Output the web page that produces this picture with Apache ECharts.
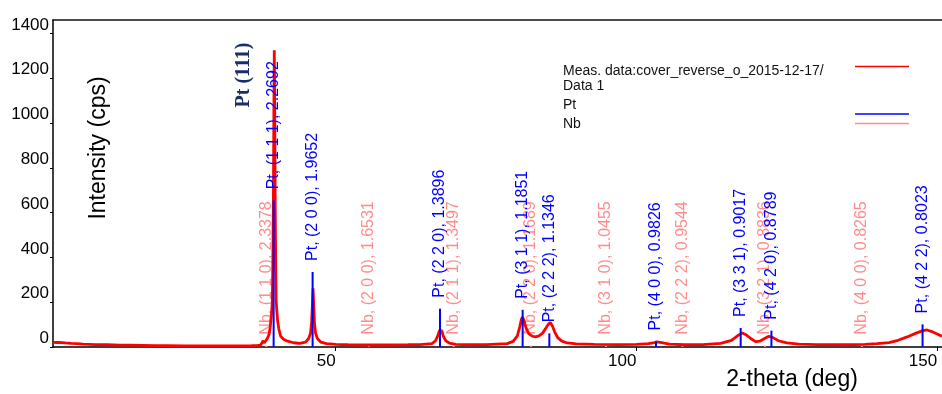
<!DOCTYPE html>
<html>
<head>
<meta charset="utf-8">
<script src="https://cdn.jsdelivr.net/npm/echarts@6/dist/echarts.min.js"></script>
<style>
  html, body { margin: 0; padding: 0; background: #fff; }
  #chart { width: 942px; height: 394px; }
</style>
</head>
<body>
<div id="chart"></div>
<script>
const measTheta = [
  3, 3.5, 4, 5, 6, 7, 8, 9, 10, 12, 14, 16, 18, 20, 22, 25, 28, 31, 34, 36, 37, 37.5,
  37.8, 37.95, 38.1, 38.3, 38.6, 38.9, 39.1, 39.3, 39.46, 39.55, 39.65, 39.72, 39.79,
  39.86, 39.94, 40.02, 40.1, 40.2, 40.35, 40.55, 40.85, 41.3, 42, 43, 44, 45, 45.5,
  45.8, 46, 46.12, 46.23, 46.34, 46.46, 46.65, 46.95, 47.5, 48.5, 50, 52, 54, 55.4,
  55.6, 55.8, 58, 62, 64, 66, 66.6, 67, 67.25, 67.45, 67.65, 67.9, 68.3, 68.9, 70,
  72, 75, 78.5, 79.5, 80.2, 80.6, 80.85, 81.05, 81.3, 81.65, 82.1, 82.7, 83.2, 83.8,
  84.4, 84.9, 85.3, 85.67, 86, 86.4, 86.9, 87.6, 88.5, 90, 93, 97, 100, 102, 103,
  103.4, 104.2, 105.5, 108, 111, 114, 115.8, 116.9, 117.6, 118.2, 119, 119.8, 120.5,
  121.3, 122, 122.7, 123.6, 125, 127, 130, 135, 138, 140, 142, 143.5, 145, 146.5,
  147.5, 148.3, 149, 150, 150.8
];
const measIntensity = [
  22, 20, 21, 18, 16, 15, 13, 12, 11, 10, 8, 8, 7, 6, 6, 5, 5, 5, 5, 6, 7, 8,
  14, 28, 18, 22, 36, 55, 85, 140, 200, 380, 700, 1050, 1325,
  1080, 650, 380, 210, 165, 115, 80, 48, 35, 26, 19, 16, 22, 38,
  60, 110, 190, 262, 190, 110, 62, 38, 22, 15, 12, 10, 9, 9,
  14, 9, 9, 10, 11, 15, 28, 52, 74, 82, 72, 48, 28, 17, 12,
  10, 11, 15, 25, 50, 90, 122, 134, 118, 84, 60, 48, 45, 50,
  62, 82, 100, 109, 96, 68, 42, 26, 18, 14, 12, 11, 12, 15, 20,
  23, 20, 13, 10, 11, 16, 30, 52, 63, 55, 38, 24, 26,
  38, 48, 42, 28, 18, 13, 11, 10, 12, 15, 20, 30, 45, 62,
  72, 76, 70, 58, 48
];

// reference sticks
const ptTheta = [39.68, 46.16, 67.34, 81.08, 85.52, 103.25, 117.33, 122.44, 147.57];
const ptHeight = [655, 335, 171, 166, 61, 25, 85, 73, 101];
const ptHkl = ['1 1 1', '2 0 0', '2 2 0', '3 1 1', '2 2 2', '4 0 0', '3 3 1', '4 2 0', '4 2 2'];
const ptD = ['2.2692', '1.9652', '1.3896', '1.1851', '1.1346', '0.9826', '0.9017', '0.8789', '0.8023'];

const nbTheta = [38.48, 55.54, 69.61, 82.45, 94.93, 107.64, 121.36, 137.48];
const nbHeight = [6, 6, 6, 6, 6, 6, 6, 6];
const nbHkl = ['1 1 0', '2 0 0', '2 1 1', '2 2 0', '3 1 0', '2 2 2', '3 2 1', '4 0 0'];
const nbD = ['2.3378', '1.6531', '1.3497', '1.1689', '1.0455', '0.9544', '0.8836', '0.8265'];

const xTicks = [50, 100, 150];

const FONT = 'Liberation Sans, Arial, Helvetica, sans-serif';
const chartDom = document.getElementById('chart');
const myChart = echarts.init(chartDom);

const measData = measTheta.map((t, i) => [t, measIntensity[i]]);
const ptData = ptTheta.map((t, i) => ({ value: [t, ptHeight[i]], hkl: ptHkl[i], d: ptD[i] }));
const nbData = nbTheta.map((t, i) => ({ value: [t, nbHeight[i]], hkl: nbHkl[i], d: nbD[i] }));

const stickLabel = (name, color) => ({
  show: true,
  position: 'top',
  distance: 11,
  rotate: 90,
  align: 'left',
  verticalAlign: 'middle',
  color: color,
  fontSize: 16,
  fontFamily: FONT,
  formatter: (p) => name + ', (' + p.data.hkl + '), ' + p.data.d
});

const option = {
  animation: false,
  backgroundColor: '#fff',
  grid: { left: 53, right: 0, top: 20, bottom: 47 },
  xAxis: [
    {
      type: 'value',
      min: 3,
      max: 150.8,
      axisLine: { lineStyle: { color: '#000', width: 1.5 } },
      axisTick: { customValues: xTicks, length: 4, lineStyle: { color: '#000' } },
      axisLabel: {
        customValues: xTicks,
        align: 'right',
        margin: 6,
        color: '#000',
        fontSize: 17,
        fontFamily: FONT
      },
      splitLine: { show: false }
    },
    {
      type: 'value',
      position: 'top',
      min: 3,
      max: 150.8,
      axisLine: { show: true, lineStyle: { color: '#111', width: 1.5 } },
      axisTick: { show: false },
      axisLabel: { show: false },
      splitLine: { show: false }
    }
  ],
  yAxis: {
    type: 'value',
    min: 0,
    max: 1460,
    interval: 200,
    axisLine: { show: true, lineStyle: { color: '#000', width: 1.5 } },
    axisTick: { show: true, length: 3, lineStyle: { color: '#000' } },
    axisLabel: {
      verticalAlign: 'bottom',
      margin: 4,
      showMaxLabel: false,
      color: '#000',
      fontSize: 17,
      fontFamily: FONT,
      formatter: (v) => String(v)
    },
    splitLine: { show: false }
  },
  graphic: [
    {
      type: 'text', x: 99, y: 148, rotation: Math.PI / 2,
      style: { text: 'Intensity (cps)', font: '23px ' + FONT, fill: '#000', align: 'center', verticalAlign: 'middle' }
    },
    {
      type: 'text', x: 792, y: 380,
      style: { text: '2-theta (deg)', font: '23px ' + FONT, fill: '#000', align: 'center', verticalAlign: 'middle' }
    },
    {
      type: 'text', x: 244, y: 75, rotation: Math.PI / 2,
      style: { text: 'Pt (111)', font: 'bold 20px Liberation Serif, Times New Roman, serif', fill: '#1c2d6b', align: 'center', verticalAlign: 'middle' }
    },
    // legend
    { type: 'text', x: 563, y: 71, style: { text: 'Meas. data:cover_reverse_o_2015-12-17/', font: '14px ' + FONT, fill: '#111', align: 'left', verticalAlign: 'middle' } },
    { type: 'text', x: 563, y: 86, style: { text: 'Data 1', font: '14px ' + FONT, fill: '#111', align: 'left', verticalAlign: 'middle' } },
    { type: 'text', x: 563, y: 105.5, style: { text: 'Pt', font: '14px ' + FONT, fill: '#111', align: 'left', verticalAlign: 'middle' } },
    { type: 'text', x: 563, y: 124, style: { text: 'Nb', font: '14px ' + FONT, fill: '#111', align: 'left', verticalAlign: 'middle' } },
    { type: 'line', shape: { x1: 855, y1: 66.5, x2: 909, y2: 66.5 }, style: { stroke: '#ff0000', lineWidth: 1.5 } },
    { type: 'line', shape: { x1: 855, y1: 114, x2: 909, y2: 114 }, style: { stroke: '#0000ff', lineWidth: 1.5 } },
    { type: 'line', shape: { x1: 855, y1: 123.5, x2: 909, y2: 123.5 }, style: { stroke: '#ff8c8c', lineWidth: 1.5 } }
  ],
  series: [
    {
      name: 'Nb',
      type: 'bar',
      barWidth: 2,
      barGap: '-100%',
      z: 1,
      itemStyle: { color: '#ff8c8c' },
      label: stickLabel('Nb', '#ff8c8c'),
      data: nbData
    },
    {
      name: 'Meas. data:cover_reverse_o_2015-12-17/Data 1',
      type: 'line',
      showSymbol: false,
      z: 2,
      lineStyle: { color: '#ff0000', width: 2.8 },
      data: measData
    },
    {
      name: 'Pt',
      type: 'bar',
      barWidth: 2,
      barGap: '-100%',
      z: 3,
      itemStyle: { color: '#0000ff' },
      label: stickLabel('Pt', '#0000ff'),
      data: ptData
    }
  ]
};

option && myChart.setOption(option);
</script>
</body>
</html>
